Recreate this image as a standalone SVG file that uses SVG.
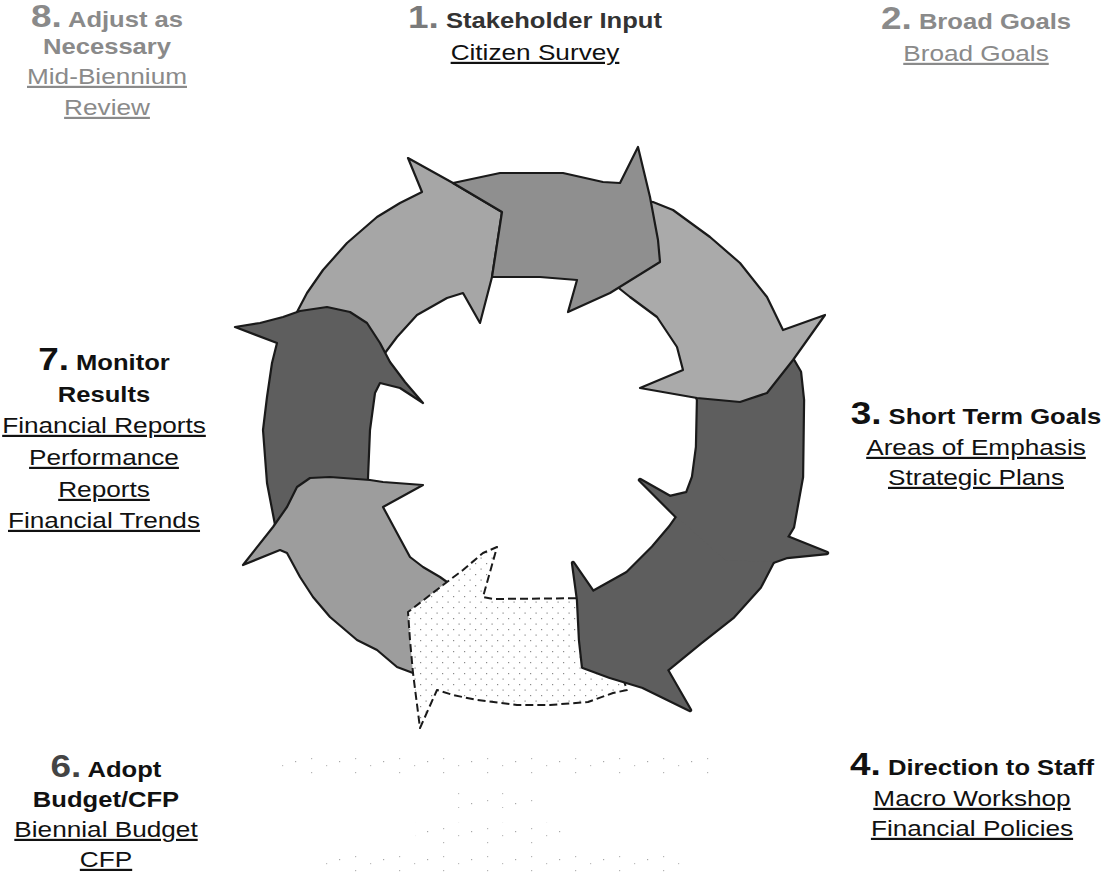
<svg xmlns="http://www.w3.org/2000/svg" xmlns:xlink="http://www.w3.org/1999/xlink" width="1107" height="876" viewBox="0 0 1107 876">
<style>
  .t { font-family: "Liberation Sans", Arial, sans-serif; text-anchor: middle; }
  .num { font-size: 31px; font-weight: bold; }
  .ttl { font-size: 21.5px; font-weight: bold; }
  .lnk { font-size: 22px; text-decoration: underline; }
  .grey { fill: #8a8a8a; }
  .blk { fill: #111111; }
  .arr { stroke: #1a1a1a; stroke-width: 2.2; stroke-linejoin: round; }
  .dk { fill: #5e5e5e; }
</style>
<defs>
  <pattern id="dots" width="11" height="11" patternUnits="userSpaceOnUse">
    <rect width="11" height="11" fill="#ffffff"/>
    <rect x="2" y="2" width="1.2" height="1.2" fill="#8a8a8a"/>
    <rect x="7.5" y="7.5" width="1.2" height="1.2" fill="#8a8a8a"/>
  </pattern>
  <pattern id="shadow" width="44" height="14" patternUnits="userSpaceOnUse">
    <rect x="3" y="2" width="1.2" height="1.2" fill="#b4b4b4"/>
    <rect x="18" y="9" width="1.2" height="1.2" fill="#bdbdbd"/>
    <rect x="31" y="5" width="1.2" height="1.2" fill="#a8a8a8"/>
  </pattern>
  <path id="a4" d="M 690,520 L 740,550 L 773,562 L 760,587 L 733,617 L 700,643 L 667,670 L 690,710 L 643,687 L 610,677 L 583,667 L 580,640 L 578,600 L 573,563 L 593,592 L 627,573 L 653,547 L 670,527 L 677,517 Z"/>
  <path id="a3" d="M 697,397 L 745,393 L 793,360 L 800,372 L 803,400 L 802,477 L 793,527 L 787,537 L 827,553 L 787,557 L 773,562 L 725,560 L 677,517 L 640,480 L 670,497 L 687,493 L 693,477 L 697,447 L 698,400 Z"/>
</defs>
<rect width="1107" height="876" fill="#ffffff"/>

<g id="shadow-dots">
  <rect x="277" y="753" width="436" height="22" fill="url(#shadow)"/>
  <rect x="447" y="793" width="92" height="15" fill="url(#shadow)"/>
  <rect x="415" y="822" width="157" height="22" fill="url(#shadow)"/>
  <rect x="322" y="852" width="362" height="20" fill="url(#shadow)"/>
</g>

<g id="connectors">
  <path id="arrow-8" class="arr" fill="#a6a6a6" d="M 290,335 L 297,312 L 307,293 L 323,270 L 347,243 L 377,217 L 400,203 L 422,192 L 408,158 L 453,183 L 502,212 L 492,277 L 480,323 L 463,293 L 447,298 L 417,315 L 397,337 L 382,357 L 370,360 Z"/>
  <path id="arrow-7" class="arr dk" d="M 235,327 L 260,323 L 283,317 L 300,311 L 327,307 L 350,312 L 367,323 L 380,343 L 390,362 L 405,382 L 423,403 L 400,388 L 380,383 L 375,393 L 370,430 L 368,478 L 368,510 L 300,530 L 276,530 L 267,483 L 263,430 L 267,397 L 272,363 L 277,343 Z"/>
  <path id="arrow-6" class="arr" fill="#9d9d9d" d="M 413,673 L 397,667 L 377,650 L 357,640 L 330,617 L 313,597 L 300,577 L 287,553 L 280,550 L 243,565 L 273,527 L 287,507 L 297,487 L 310,478 L 330,477 L 370,480 L 383,482 L 423,485 L 383,507 L 397,533 L 410,557 L 423,567 L 440,577 L 447,582 L 430,640 Z"/>
  <path id="arrow-5" fill="url(#dots)" stroke="#1a1a1a" stroke-width="2" stroke-dasharray="8 4" stroke-linejoin="round" d="M 600,598 L 493,599 L 483,597 L 497,547 L 483,553 L 463,570 L 447,582 L 408,612 L 410,640 L 413,673 L 420,728 L 437,690 L 453,695 L 477,700 L 517,705 L 550,705 L 588,702 L 613,693 L 627,690 L 610,640 Z"/>
  <g id="arrow-3-4">
    <use xlink:href="#a4" class="dk" stroke="#1a1a1a" stroke-width="4.4" stroke-linejoin="round"/>
    <use xlink:href="#a3" class="dk" stroke="#1a1a1a" stroke-width="4.4" stroke-linejoin="round"/>
    <use xlink:href="#a4" class="dk"/>
    <use xlink:href="#a3" class="dk"/>
  </g>
  <path id="arrow-2" class="arr" fill="#aaaaaa" d="M 640,200 L 653,202 L 673,210 L 710,237 L 740,263 L 767,297 L 783,330 L 825,315 L 793,360 L 767,393 L 740,402 L 697,398 L 640,388 L 683,370 L 677,347 L 657,317 L 630,297 L 615,285 L 630,240 Z"/>
  <path id="arrow-1" class="arr" fill="#8f8f8f" d="M 453,183 L 500,173 L 563,173 L 603,182 L 620,183 L 638,147 L 650,197 L 658,240 L 660,262 L 610,293 L 568,312 L 577,280 L 540,277 L 492,277 L 502,212 Z"/>
</g>

<g id="step-1" transform="translate(535,0) scale(1.19,1)">
  <text class="t" y="28"><tspan class="num" font-size="27" fill="#7a7a7a">1.</tspan><tspan class="ttl" fill="#333333"> Stakeholder Input</tspan></text>
  <text class="t lnk blk" y="60">Citizen Survey</text>
</g>

<g id="step-2" transform="translate(976,0) scale(1.19,1)">
  <text class="t grey" y="29"><tspan class="num">2.</tspan><tspan class="ttl"> Broad Goals</tspan></text>
  <text class="t lnk grey" y="61">Broad Goals</text>
</g>

<g id="step-3" transform="translate(976,0) scale(1.19,1)">
  <text class="t blk" y="424"><tspan class="num" font-weight="normal">3.</tspan><tspan class="ttl"> Short Term Goals</tspan></text>
  <text class="t lnk blk" y="455">Areas of Emphasis</text>
  <text class="t lnk blk" y="485">Strategic Plans</text>
</g>

<g id="step-4" transform="translate(972,0) scale(1.19,1)">
  <text class="t blk" y="775"><tspan class="num">4.</tspan><tspan class="ttl"> Direction to Staff</tspan></text>
  <text class="t lnk blk" y="806">Macro Workshop</text>
  <text class="t lnk blk" y="836">Financial Policies</text>
</g>

<g id="step-6" transform="translate(106,0) scale(1.19,1)">
  <text class="t blk" y="777"><tspan class="num" fill="#444444">6.</tspan><tspan class="ttl"> Adopt</tspan></text>
  <text class="t ttl blk" y="807">Budget/CFP</text>
  <text class="t lnk blk" y="837">Biennial Budget</text>
  <text class="t lnk blk" y="867">CFP</text>
</g>

<g id="step-7" transform="translate(104,0) scale(1.19,1)">
  <text class="t blk" y="370"><tspan class="num" font-weight="normal">7.</tspan><tspan class="ttl"> Monitor</tspan></text>
  <text class="t ttl blk" y="402">Results</text>
  <text class="t lnk blk" y="433">Financial Reports</text>
  <text class="t lnk blk" y="465">Performance</text>
  <text class="t lnk blk" y="497">Reports</text>
  <text class="t lnk blk" y="528">Financial Trends</text>
</g>

<g id="step-8" transform="translate(107,0) scale(1.19,1)">
  <text class="t grey" y="27"><tspan class="num">8.</tspan><tspan class="ttl"> Adjust as</tspan></text>
  <text class="t ttl grey" y="54">Necessary</text>
  <text class="t lnk grey" y="84">Mid-Biennium</text>
  <text class="t lnk grey" y="115">Review</text>
</g>
</svg>
